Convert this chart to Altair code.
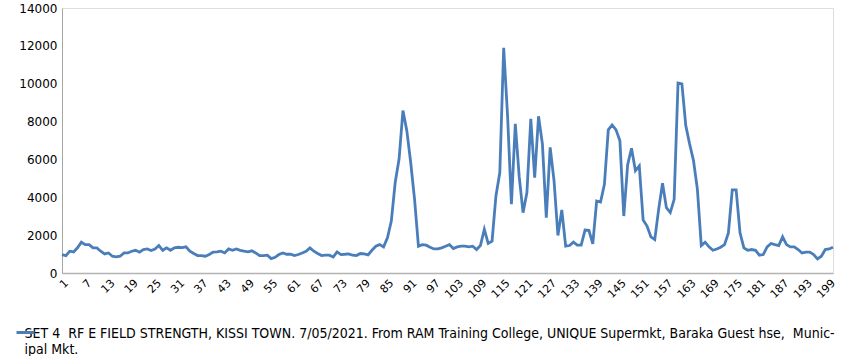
import altair as alt
import pandas as pd

# Measured field strength values, points 1..200
values = [
    970, 920, 1150, 1115, 1330, 1630, 1500, 1500, 1330, 1330,
    1150, 1010, 1060, 885, 850, 885, 1060, 1060, 1150, 1200,
    1100, 1240, 1270, 1190, 1270, 1450, 1200, 1330, 1200, 1330,
    1360, 1345, 1380, 1150, 1030, 920, 920, 885, 975, 1100,
    1115, 1150, 1060, 1270, 1200, 1270, 1200, 1150, 1115, 1170,
    1060, 920, 920, 940, 760, 830, 975, 1060, 990, 990,
    920, 975, 1060, 1150, 1330, 1150, 1030, 920, 940, 940,
    850, 1115, 975, 990, 1010, 940, 920, 1030, 1010, 955,
    1200, 1415, 1500, 1380, 1860, 2740, 4780, 6020, 8580, 7520,
    5840, 3890, 1415, 1500, 1470, 1360, 1270, 1270, 1330, 1415,
    1500, 1290, 1380, 1415, 1415, 1380, 1415, 1240, 1450, 2300,
    1560, 1680, 4070, 5310, 11900, 8320, 3630, 7880, 5100, 3190,
    4250, 8140, 5040, 8280, 6810, 2920, 6640, 4870, 1980, 3330,
    1415, 1450, 1630, 1470, 1470, 2270, 2250, 1540, 3800, 3750,
    4690, 7560, 7820, 7560, 6990, 3010, 5720, 6590, 5400, 5660,
    2800, 2480, 1910, 1770, 3360, 4740, 3450, 3190, 3890, 10040,
    9990, 7790, 6810, 5930, 4420, 1450, 1630, 1380, 1200, 1270,
    1360, 1500, 2120, 4390, 4390, 2120, 1330, 1200, 1240, 1200,
    940, 975, 1380, 1560, 1500, 1450, 1910, 1500, 1380, 1380,
    1240, 1060, 1100, 1100, 975, 740, 885, 1240, 1270, 1360,
]
points = list(range(1, len(values) + 1))
x_tick_labels = list(range(1, 200, 6))
y_tick_labels = list(range(0, 14001, 2000))

label_line1 = "SET 4 \u00a0RF E FIELD STRENGTH, KISSI TOWN. 7/05/2021. From RAM Training College, UNIQUE Supermkt, Baraka Guest hse, \u00a0Munic-"
label_line2 = "ipal Mkt."
series_name = label_line1 + label_line2

df = pd.DataFrame({"point": points, "value": values, "series": series_name})

chart = alt.Chart(df).mark_line(strokeWidth=2.8).encode(
    x=alt.X(
        "point:Q",
        scale=alt.Scale(domain=[1, 200], nice=False, zero=False),
        axis=alt.Axis(
            values=x_tick_labels, labelAngle=-45, grid=False,
            ticks=False, labelFont="DejaVu Sans", labelFontSize=11,
            labelColor="#000000", domainColor="#b3b3b3", domainWidth=1.5,
            labelPadding=4, labelOverlap=False,
            title=[label_line1, label_line2], titleX=-38, titleY=53,
            titleAlign="left", titleAnchor="start", titleBaseline="top",
            titleFont="DejaVu Sans Condensed", titleFontSize=14,
            titleFontWeight="normal", titleColor="#000000",
            titleLineHeight=16, titleLimit=2000,
        ),
    ),
    y=alt.Y(
        "value:Q",
        scale=alt.Scale(domain=[0, 14000], nice=False),
        axis=alt.Axis(
            values=y_tick_labels, title=None, grid=False, ticks=False,
            format="d",
            labelFont="DejaVu Sans", labelFontSize=12, labelColor="#000000",
            domainColor="#a6a6a6", domainWidth=1, labelPadding=5,
        ),
    ),
    color=alt.Color(
        "series:N",
        scale=alt.Scale(domain=[series_name], range=["#4a7ebb"]),
        legend=alt.Legend(
            title=None, orient="none", legendX=-47, legendY=314,
            symbolType="stroke", symbolSize=324, symbolStrokeWidth=3,
            labelExpr="''", labelOffset=0, padding=0,
        ),
    ),
).properties(
    width=771,
    height=265,
    autosize=alt.AutoSizeParams(type="none"),
    padding={"left": 62, "top": 8, "right": 21, "bottom": 83},
).configure_view(stroke=None).configure(background="#ffffff")

chart.save("out.html", embed_options={"renderer": "svg", "actions": False})
